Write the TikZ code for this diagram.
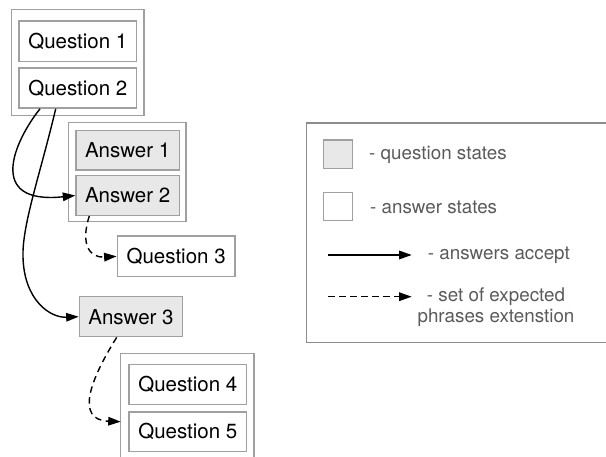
\documentclass[tikz,border=0pt]{standalone}
\usepackage{fontspec}
\setmainfont{TeX Gyre Heros}
\usetikzlibrary{arrows.meta}
\definecolor{boxgray}{HTML}{A0A0A0}
\definecolor{legendgray}{HTML}{8C8C8C}
\definecolor{qfill}{HTML}{E8E8E8}
\definecolor{ltext}{HTML}{5A5A5A}
\tikzset{
  state/.style={draw=boxgray, line width=1.4pt, inner sep=0pt, font=\fontsize{20.5}{24}\selectfont},
  qstate/.style={state, minimum width=117.7pt, minimum height=40.3pt},
  astate/.style={state, fill=qfill, minimum width=103.3pt, minimum height=39.5pt},
  grp/.style={draw=boxgray, line width=1.4pt},
  acc/.style={line width=1.4pt, -{Triangle[length=12.5pt,width=8.5pt]}},
  ext/.style={acc, dash pattern=on 6.5pt off 4.5pt},
  ltxt/.style={text=ltext, font=\fontsize{18.8}{21.3}\selectfont, inner sep=0pt},
}
\begin{document}
\begin{tikzpicture}[x=1pt,y=-1pt]
\useasboundingbox (0,0) rectangle (606,457);
\begin{scope}
\clip (0,0) rectangle (606,457);
% groups
\draw[grp] (11.7,9.3) rectangle (144,115.7);
\draw[grp] (68.3,122.7) rectangle (186,221.3);
\draw[grp] (120.7,353.3) rectangle (254,470);
% legend frame
\draw[draw=legendgray, line width=1.2pt] (306.7,123) rectangle (620,342.3);
\end{scope}
\coordinate (g3w) at (120.7,421.7);

\node[qstate] (q1) at (77.85,41.15) {Question 1};
\node[qstate] (q2) at (77.85,88) {Question 2};
\node[astate] (a1) at (127.65,150.35) {Answer 1};
\node[astate] (a2) at (127.65,195.5) {Answer 2};
\node[qstate] (q3) at (176.15,256.35) {Question 3};
\node[astate, minimum height=40pt] (a3) at (131,316.7) {Answer 3};
\node[qstate, minimum height=40pt] (q4) at (187.85,384.3) {Question 4};
\node[qstate, minimum height=39.7pt] (q5) at (187.85,431.85) {Question 5};

% connectors
\draw[acc] (q2.south -| 40,0) .. controls (15,140) and (-15,205) .. (a2.west);
\draw[acc] (q2.south -| 55.7,0) .. controls (40,175) and (22,225) .. (23,257)
  .. controls (24,300) and (50,318) .. (a3.west);
\draw[ext] (a2.south -| 89.3,0) .. controls (80,245) and (90,258) .. (q3.west);
\draw[ext] (a3.south -| 116.7,0) .. controls (90,380) and (75,420) .. (g3w);

% legend
\node[draw=boxgray, fill=qfill, line width=1.2pt, minimum width=29pt, minimum height=28.3pt, inner sep=0pt] (lq) at (337.8,154.15) {};
\node[draw=boxgray, line width=1.2pt, minimum width=29pt, minimum height=28pt, inner sep=0pt] (la) at (337.8,206.7) {};
\node[ltxt, anchor=west] (lqt) at (369,154.5) {- question states};
\node[ltxt, anchor=west] (lat) at (370,207) {- answer states};
\coordinate (s1) at (328.3,255);
\coordinate (s2) at (411.7,255);
\coordinate (d1) at (328.3,296.7);
\coordinate (d2) at (411.7,296.7);
\draw[acc] (s1) -- (s2);
\draw[ext] (d1) -- (d2);
\node[ltxt, anchor=west] (lst) at (427.7,255.5) {- answers accept};
\node[ltxt, align=center] (ldt) at (496,307.5) {- set of expected\\phrases extenstion};
\end{tikzpicture}
\end{document}
